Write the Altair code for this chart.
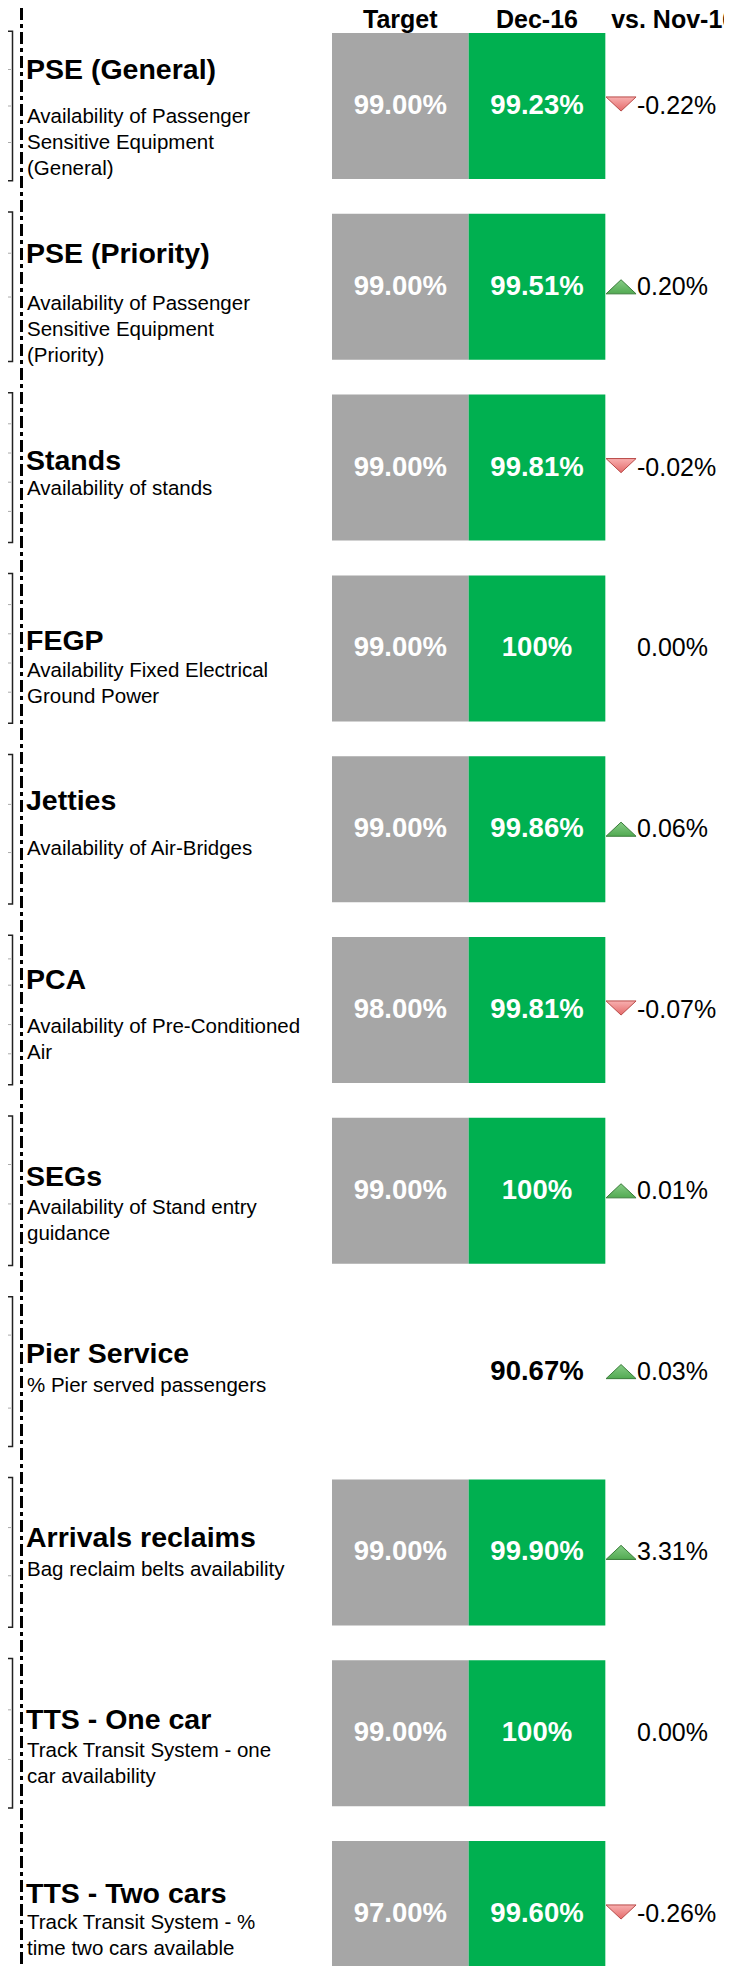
import altair as alt
import pandas as pd

# ---------------- data ----------------
titles = ["PSE (General)", "PSE (Priority)", "Stands", "FEGP", "Jetties", "PCA",
          "SEGs", "Pier Service", "Arrivals reclaims", "TTS - One car", "TTS - Two cars"]
descriptions = [
    ["Availability of Passenger", "Sensitive Equipment", "(General)"],
    ["Availability of Passenger", "Sensitive Equipment", "(Priority)"],
    ["Availability of stands"],
    ["Availability Fixed Electrical", "Ground Power"],
    ["Availability of Air-Bridges"],
    ["Availability of Pre-Conditioned", "Air"],
    ["Availability of Stand entry", "guidance"],
    ["% Pier served passengers"],
    ["Bag reclaim belts availability"],
    ["Track Transit System - one", "car availability"],
    ["Track Transit System - %", "time two cars available"],
]
targets = [99.00, 99.00, 99.00, 99.00, 99.00, 98.00, 99.00, None, 99.00, 99.00, 97.00]
dec16 = [99.23, 99.51, 99.81, 100.00, 99.86, 99.81, 100.00, 90.67, 99.90, 100.00, 99.60]
change = [-0.22, 0.20, -0.02, 0.00, 0.06, -0.07, 0.01, 0.03, 3.31, 0.00, -0.26]
columns = ["Target", "Dec-16", "vs. Nov-16"]
# gridline fractions of the cut-off mini charts at the left edge (rows 0-9)
spark_grid = [[0.25, 0.5, 0.75], [0.27, 0.57], [0.2, 0.4, 0.6, 0.8], [0.2, 0.4, 0.6, 0.8],
              [0.33, 0.66], [0.15, 0.33, 0.6, 0.8], [0.32, 0.59], [0.25, 0.75],
              [0.33, 0.66], [0.34, 0.68]]

# ---------------- layout ----------------
FONT = "Liberation Sans"
STEP = 180.8          # row pitch (px)
BAND = 146            # box height (px)
TOP = 25              # first row top (px)
TITLE_BASE = [46, 49.5, 75, 75, 54, 52, 68, 64, 68, 69, 62]
DESC_GAP = [44, 47, 25, 27, 45, 44, 28, 29, 29, 28, 26]
LINE_H = 26
rows = list(range(len(titles)))
NROW = len(rows)
BF = BAND / STEP


def fmt(v):
    return "100%" if v == 100 else f"{v:.2f}%"


yscale = alt.Scale(domain=[0, NROW], range=[TOP, TOP + NROW * STEP], zero=False, nice=False, padding=0)
xscale = alt.Scale(domain=columns, range=[324, 734], paddingInner=0, paddingOuter=0)

title_df = pd.DataFrame({"row": rows, "text": titles,
                         "y": [r + TITLE_BASE[r] / STEP for r in rows]})
desc_recs = []
for r, lines in enumerate(descriptions):
    for i, t in enumerate(lines):
        desc_recs.append({"row": r, "text": t,
                          "y": r + (TITLE_BASE[r] + DESC_GAP[r] + i * LINE_H) / STEP})
desc_df = pd.DataFrame(desc_recs)

box_recs = []
for r in rows:
    if targets[r] is not None:
        for c, v in (("Target", targets[r]), ("Dec-16", dec16[r])):
            box_recs.append({"row": r, "col": c, "label": fmt(v),
                             "y": r, "y2": r + BF, "yc": r + BF / 2})
box_df = pd.DataFrame(box_recs)
plain_df = pd.DataFrame([{"row": r, "col": "Dec-16", "label": fmt(dec16[r]), "yc": r + BF / 2}
                         for r in rows if targets[r] is None])
chg_df = pd.DataFrame({"row": rows, "col": "vs. Nov-16", "chg": change,
                       "label": [f"{c:.2f}%" for c in change],
                       "yc": [r + BF / 2 for r in rows]})
head_df = pd.DataFrame({"col": columns})
grid_df = pd.DataFrame([{"row": r, "y": r + f * BF} for r, fr in enumerate(spark_grid) for f in fr])
spark_df = pd.DataFrame({"row": list(range(len(spark_grid)))})
spark_df["y"] = spark_df["row"] - 0.01
spark_df["y2"] = spark_df["row"] + BF + 0.01
line_df = pd.DataFrame({"a": [0]})


def Yq(f):
    return alt.Y(f, type="quantitative", scale=yscale, axis=None)


XC = alt.X("col:N", scale=xscale, axis=None)

dash_line = alt.Chart(line_df).mark_rule(color="black", strokeWidth=3, strokeDash=[12, 4, 4, 4]).encode(
    x=alt.value(13.5), y=alt.value(0), y2=alt.value(1970))

spark_boxes = alt.Chart(spark_df).mark_rect(fill="white", stroke="#222222", strokeWidth=1.5).encode(
    x=alt.value(-10), x2=alt.value(4.5), y=Yq("y"), y2="y2:Q")

spark_grid_lines = alt.Chart(grid_df).mark_rule(color="#AAAAAA", strokeWidth=1, strokeDash=[4, 3]).encode(
    x=alt.value(-8), x2=alt.value(3.5), y=Yq("y"))

title_text = alt.Chart(title_df).mark_text(align="left", baseline="alphabetic", font=FONT, fontSize=28.5,
                                           fontWeight="bold", color="black").encode(
    x=alt.value(18), y=Yq("y"), text="text:N")

desc_text = alt.Chart(desc_df).mark_text(align="left", baseline="alphabetic", font=FONT, fontSize=20.5,
                                         color="black").encode(
    x=alt.value(19), y=Yq("y"), text="text:N")

header = alt.Chart(head_df).mark_text(align="center", baseline="alphabetic", font=FONT, fontSize=25,
                                      fontWeight="bold", color="black").encode(
    x=XC, y=alt.value(20), text="col:N")

boxes = alt.Chart(box_df).mark_rect().encode(
    x=XC, y=Yq("y"), y2="y2:Q",
    color=alt.Color("col:N", scale=alt.Scale(domain=["Target", "Dec-16"], range=["#A6A6A6", "#00B050"]),
                    legend=None))

box_text = alt.Chart(box_df).mark_text(align="center", baseline="middle", font=FONT, fontSize=27.5,
                                       fontWeight="bold", color="white").encode(
    x=XC, y=Yq("yc"), text="label:N")

plain_text = alt.Chart(plain_df).mark_text(align="center", baseline="middle", font=FONT, fontSize=27.5,
                                           fontWeight="bold", color="black").encode(
    x=XC, y=Yq("yc"), text="label:N")

chg_text = alt.Chart(chg_df).mark_text(align="left", baseline="middle", font=FONT, fontSize=25,
                                       color="black").encode(
    x=alt.X("col:N", scale=xscale, axis=None, bandPosition=0.232), y=Yq("yc"), text="label:N")

down_fill = alt.Gradient(gradient="linear", x1=0, x2=0, y1=0, y2=1,
                         stops=[alt.GradientStop(color="#F8B0B0", offset=0),
                                alt.GradientStop(color="#E46A6A", offset=1)])
up_fill = alt.Gradient(gradient="linear", x1=0, x2=0, y1=0, y2=1,
                       stops=[alt.GradientStop(color="#86CC86", offset=0),
                              alt.GradientStop(color="#52AA52", offset=1)])

down = alt.Chart(chg_df).transform_filter("datum.chg < 0").mark_point(
    shape="M-1,-0.47L1,-0.47L0,0.47Z", size=900, filled=True, fill=down_fill, stroke="#B94A48",
    strokeWidth=1, opacity=1).encode(
    x=alt.X("col:N", scale=xscale, axis=None, bandPosition=0.115), y=Yq("yc"), yOffset=alt.value(-2))

up = alt.Chart(chg_df).transform_filter("datum.chg > 0").mark_point(
    shape="M-1,0.47L1,0.47L0,-0.47Z", size=900, filled=True, fill=up_fill, stroke="#3A7D3A",
    strokeWidth=1, opacity=1).encode(
    x=alt.X("col:N", scale=xscale, axis=None, bandPosition=0.115), y=Yq("yc"))

chart = alt.layer(
    spark_boxes, spark_grid_lines, dash_line, title_text, desc_text, header,
    boxes, box_text, plain_text, down, up, chg_text
).properties(
    width=716, height=1958, padding=0,
    autosize=alt.AutoSizeParams(type="none")
).configure(background="white").configure_view(stroke=None, strokeWidth=0)

chart.save("out.html", embed_options={"renderer": "svg", "actions": False})
